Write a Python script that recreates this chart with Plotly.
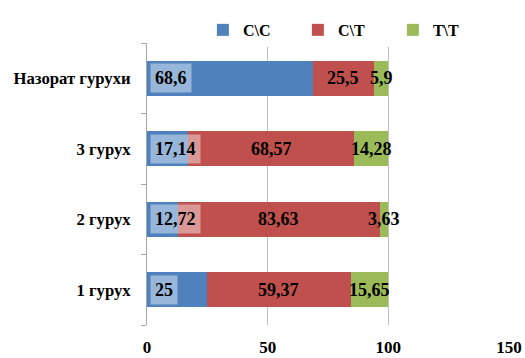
import plotly.graph_objects as go

categories = ["1 гурух", "2 гурух", "3 гурух", "Назорат гурухи"]
series_names = ["С\\С", "С\\Т", "Т\\Т"]
cc_values = [25, 12.72, 17.14, 68.6]
ct_values = [59.37, 83.63, 68.57, 25.5]
tt_values = [15.65, 3.63, 14.28, 5.9]
x_ticks = [0, 50, 100, 150]

colors = ["#4F81BD", "#C0504D", "#9BBB59"]
FONT = "Times New Roman, Liberation Serif, serif"

def fmt(v):
    return f"{v:g}".replace(".", ",")

fig = go.Figure()
all_series = [cc_values, ct_values, tt_values]
for name, vals, col in zip(series_names, all_series, colors):
    fig.add_trace(go.Bar(
        y=categories, x=vals, name=f"<b>{name}</b>", orientation="h",
        marker=dict(color=col, line=dict(width=0)),
        hoverinfo="x+name",
    ))

annotations = []
# blue labels: inside base with translucent box
for cat, v in zip(categories, cc_values):
    annotations.append(dict(
        x=0, y=cat, xref="x", yref="y", text=f"<b>{fmt(v)}</b>",
        showarrow=False, xanchor="left", xshift=3,
        font=dict(family=FONT, size=18, color="black"),
        bgcolor="rgba(255,255,255,0.42)", borderpad=4,
    ))
# red and green labels: centred
for i, cat in enumerate(categories):
    start = cc_values[i]
    for vals in (ct_values, tt_values):
        v = vals[i]
        annotations.append(dict(
            x=start + v / 2, y=cat, xref="x", yref="y", text=f"<b>{fmt(v)}</b>",
            showarrow=False, xanchor="center",
            font=dict(family=FONT, size=18, color="black"),
        ))
        start += v

fig.update_layout(
    barmode="stack",
    bargap=0.5,
    width=525, height=358,
    margin=dict(l=147, r=16, t=43, b=33, autoexpand=False),
    paper_bgcolor="white", plot_bgcolor="white",
    font=dict(family=FONT, size=16, color="black"),
    showlegend=True,
    legend=dict(orientation="h", x=0.548, xanchor="center", y=0.986, yanchor="bottom",
                font=dict(family=FONT, size=16, color="black"),
                entrywidth=50, entrywidthmode="pixels", traceorder="normal",
                itemclick=False),
    annotations=annotations,
    xaxis=dict(range=[0, 150], tickvals=x_ticks,
               ticktext=[f"<b>{t}</b>" for t in x_ticks],
               showgrid=True, gridcolor="#BFBFBF", gridwidth=1,
               zeroline=False, showline=False, ticks="", automargin=False,
               ticklabeloverflow="allow", ticklabelstandoff=10,
               tickfont=dict(family=FONT, size=17, color="black")),
    yaxis=dict(type="category", categoryorder="array", categoryarray=categories,
               tickvals=categories, ticktext=[f"<b>{c}</b>" for c in categories],
               showline=True, linecolor="#A6A6A6", linewidth=1, automargin=False,
               ticks="outside", tickson="boundaries", ticklen=5, tickcolor="#A6A6A6",
               showgrid=False, ticklabelstandoff=12,
               tickfont=dict(family=FONT, size=16.7, color="black")),
)

fig.write_html(
    "out.html",
    config={"displayModeBar": False},
    post_script="document.body.style.margin='0';document.body.style.overflow='hidden';",
)
